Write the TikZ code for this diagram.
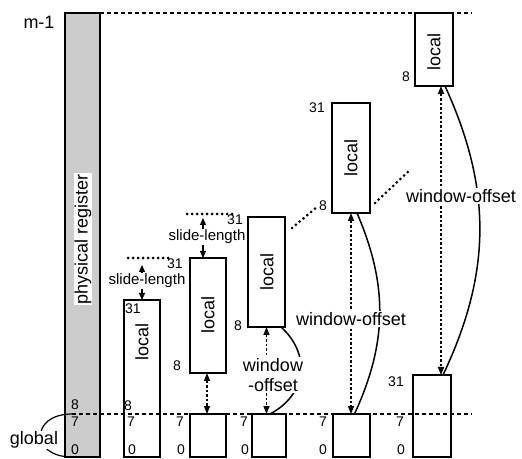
\documentclass[tikz,border=0pt]{standalone}
\usepackage{fontspec}
\setmainfont{Liberation Sans}
\usetikzlibrary{positioning,arrows.meta,calc}
\tikzset{
  regbox/.style={draw=black, line width=1.8pt, inner sep=0pt, outer sep=0pt, anchor=south west},
  lbl/.style={font=\fontsize{18}{20}\selectfont, inner sep=1pt},
  num/.style={font=\fontsize{14}{16}\selectfont, inner sep=0pt},
  slbl/.style={font=\fontsize{15}{17}\selectfont, inner sep=1pt},
  guide/.style={line width=1.3pt, dash pattern=on 4pt off 3pt},
  dotline/.style={line width=3pt, line cap=round, dash pattern=on 0pt off 5pt},
  slidearr/.style={line width=1.2pt, -{Triangle[length=7pt,width=6pt]}},
  offarr/.style={line width=1.4pt, dash pattern=on 2.5pt off 2pt,
    {Triangle[length=8pt,width=6pt]}-{Triangle[length=8pt,width=6pt]}},
  offcurve/.style={line width=1.5pt}
}

\begin{document}
\begin{tikzpicture}[x=1pt,y=1pt]
      \useasboundingbox (0,0) rectangle (522,458);
      % register and windows
      \node[regbox, fill=black!20, minimum width=35pt, minimum height=444pt] (phys) at (65,1) {};
      \node[regbox, minimum width=36pt, minimum height=157pt] (loc1) at (124,1) {};
      \node[regbox, minimum width=36pt, minimum height=115pt] (loc2) at (190,85) {};
      \node[regbox, minimum width=36pt, minimum height=43pt] (low2) at (190,1) {};
      \node[regbox, minimum width=37pt, minimum height=110pt] (loc3) at (248,131) {};
      \node[regbox, minimum width=34pt, minimum height=43pt] (low3) at (252,1) {};
      \node[regbox, minimum width=38pt, minimum height=110pt] (loc4) at (332,245) {};
      \node[regbox, minimum width=37pt, minimum height=43pt] (low4) at (333,1) {};
      \node[regbox, minimum width=38pt, minimum height=73pt] (loc5) at (415,372) {};
      \node[regbox, minimum width=38pt, minimum height=82pt] (low5) at (413,1) {};
      % guide lines
      \coordinate (mtop) at (472,445);
      \coordinate (g7) at (72,44);
      \coordinate (g0) at (72,1);
      \coordinate (gend) at (472,44);
      \draw[guide] (phys.north east) -- (mtop);
      \draw[guide] (g7) -- (gend);
      \draw[line width=1.2pt] (g7) .. controls (30,44) and (30,1) .. (g0);
      \node[lbl, fill=white] (glob) at (34,18) {global};
      \node[lbl] (mlab) at (39,436) {m-1};
      \node[lbl, rotate=90, fill=white] (plab) at (83,219) {physical register};
      \node[num] at (75,53) {8};
      \node[num] at (75,36) {7};
      \node[num] at (75,8) {0};
      % window 1
      \node[lbl, rotate=90] at (142,116) {local};
      \node[num] at (133,149) {31};
      \node[num] at (128,52) {8};
      \node[num] at (131,36) {7};
      \node[num] at (132,8) {0};
      \coordinate (s1l) at (128,200);
      \coordinate (s1r) at (170,200);
      \draw[dotline] (s1l) -- (s1r);
      \node[slbl] (sl1) at (147,177) {slide-length};
      \draw[slidearr, shorten >=7pt] (sl1.north -| loc1.north) -- (loc1.north |- s1l);
      \draw[slidearr] (sl1.south -| loc1.north) -- (loc1.north);
      % window 2
      \node[lbl, rotate=90] at (208,143) {local};
      \node[num] at (175,194) {31};
      \node[num] at (177,92) {8};
      \node[num] at (180,36) {7};
      \node[num] at (181,8) {0};
      \draw[offarr] ([xshift=-1pt]loc2.south) -- ([xshift=-1pt]low2.north);
      \coordinate (s2l) at (187,244);
      \coordinate (s2r) at (232,244);
      \coordinate (s2x) at ([xshift=-5pt]loc2.north);
      \draw[dotline] (s2l) -- (s2r);
      \node[slbl] (sl2) at (207,221) {slide-length};
      \draw[slidearr, shorten >=4pt] (sl2.north -| s2x) -- (s2x |- s2l);
      \draw[slidearr] (sl2.south -| s2x) -- (s2x);
      % window 3
      \node[lbl, rotate=90] at (267,186) {local};
      \node[num] at (235,238) {31};
      \node[num] at (238,132) {8};
      \node[num] at (244,36) {7};
      \node[num] at (245,8) {0};
      \draw[offarr] (loc3.south) -- (loc3.south |- low3.north);
      \draw[offcurve] ([xshift=-4pt]loc3.south east) to[bend left=55, looseness=1.2] ([xshift=1pt]low3.north);
      \node[lbl, fill=white, align=center] (wo3) at (273,83) {window\\-offset};
      % window 4
      \node[lbl, rotate=90] at (351,300) {local};
      \node[num] at (317,350) {31};
      \node[num] at (323,252) {8};
      \node[num] at (323,36) {7};
      \node[num] at (323,8) {0};
      \draw[offarr] (loc4.south) -- (loc4.south |- low4.north);
      \draw[offcurve] ([xshift=6pt]loc4.south) to[bend left=24] ([xshift=3pt]low4.north);
      \node[lbl, fill=white] (wo4) at (351,139) {window-offset};
      % window 5
      \node[lbl, rotate=90] at (434,406) {local};
      \node[num] at (406,381) {8};
      \node[num] at (396,76) {31};
      \node[num] at (400,36) {7};
      \node[num] at (401,8) {0};
      \draw[offarr] ([xshift=7pt]loc5.south) -- ([xshift=7pt]loc5.south |- low5.north);
      \draw[offcurve] ([xshift=11pt]loc5.south) to[bend left=25] ([xshift=11pt]low5.north);
      \node[lbl, fill=white] (wo5) at (461,262) {window-offset};
      % more windows
      \coordinate (d1a) at (292,230);
      \coordinate (d1b) at (317,251);
      \coordinate (d2a) at (375,255);
      \coordinate (d2b) at (410,288);
      \draw[dotline] (d1a) -- (d1b);
      \draw[dotline] (d2a) -- (d2b);
\end{tikzpicture}
\end{document}
